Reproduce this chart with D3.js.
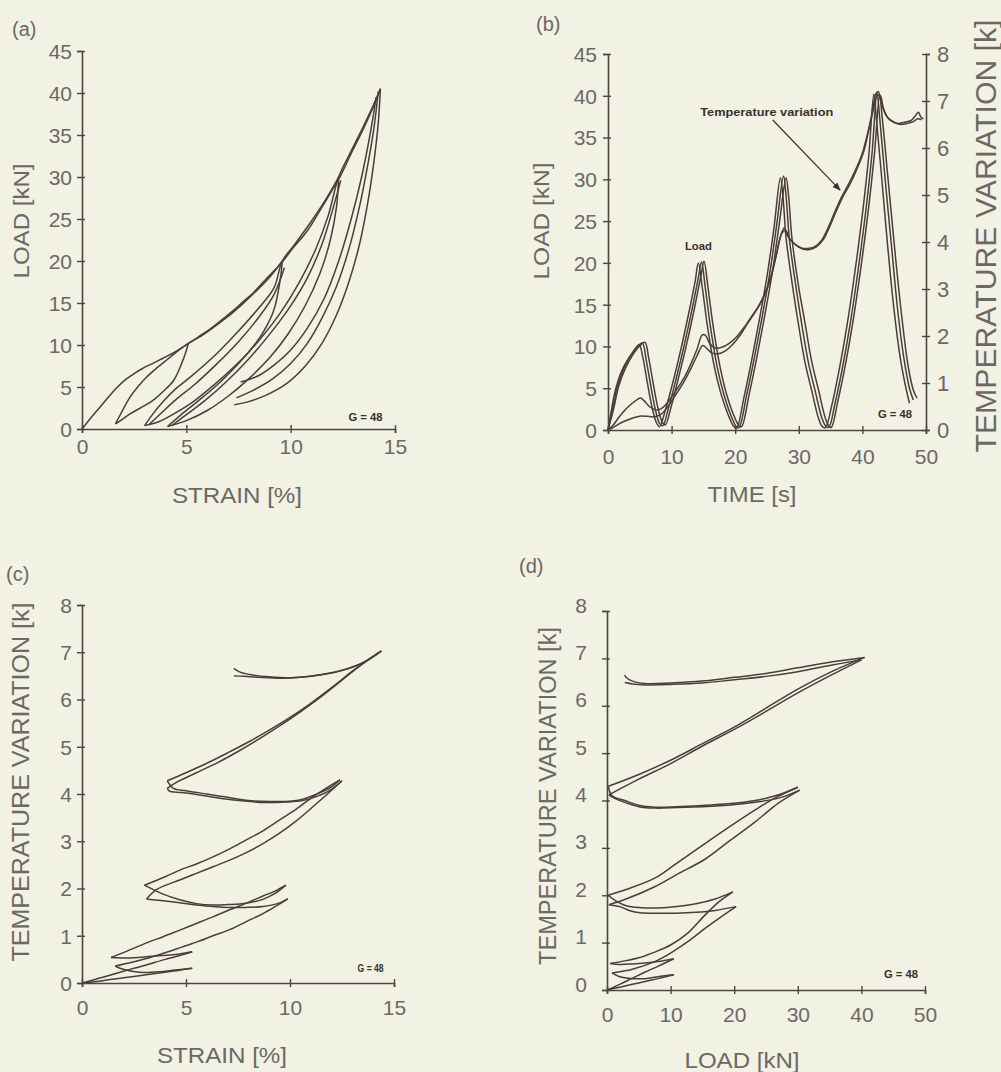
<!DOCTYPE html>
<html>
<head>
<meta charset="utf-8">
<script src="https://cdn.jsdelivr.net/npm/d3@7"></script>
<style>
  body { margin: 0; background: #f1f1e4; }
  svg { display: block; }
</style>
</head>
<body>
<svg id="chart" width="1001" height="1072"></svg>
<script>
// ---------- (a) load vs strain : [strain %, load kN] ----------
const aEnvelope = [[0,0],[0.45,1.4],[0.9,2.7],[1.3,3.9],[1.7,5.0],[2.1,5.9],[2.5,6.6],[2.9,7.2],[3.3,7.7],[3.7,8.2],[4.1,8.7],[4.6,9.4],[5.1,10.2],[5.6,11.0],[6.2,12.0],[6.7,13.0],[7.2,14.0],[7.7,15.1],[8.2,16.2],[8.8,17.8],[9.5,19.6],[10.1,21.5],[10.8,23.6],[11.4,26.0],[12.0,28.5],[12.4,30.2],[12.9,32.8],[13.5,35.8],[13.9,38.0],[14.3,40.5]];
const aLoop1Upper = [[1.6,0.6],[1.9,2.0],[2.3,3.8],[2.7,5.1],[3.1,6.2],[3.6,7.3],[4.1,8.3],[4.6,9.3],[5.1,10.2],[5.6,10.9],[6.3,12.1],[7.0,13.4],[7.7,14.9],[8.3,16.3],[9.0,18.1],[9.6,20.0]];
const aLoop1Lower = [[5.1,10.2],[4.9,8.6],[4.4,5.8],[3.9,4.5],[3.4,3.4],[2.8,2.5],[2.3,1.8],[1.9,1.1],[1.6,0.6]];
const aLoop2Upper = [[3.0,0.4],[3.4,1.8],[3.9,3.3],[4.5,4.8],[5.2,6.2],[6.3,8.6],[7.4,11.4],[8.4,14.2],[9.2,16.8],[9.6,20.0],[10.2,22.0],[10.9,24.4],[11.6,27.0],[12.3,30.0]];
const aLoop2UpperB = [[3.2,0.5],[3.8,1.9],[4.5,3.5],[5.4,5.3],[6.4,7.6],[7.5,10.4],[8.5,13.4],[9.2,16.0],[9.7,19.2]];
const aLoop2Lower = [[9.6,20.0],[9.5,17.8],[9.2,14.2],[8.7,11.6],[8.0,9.2],[7.2,7.2],[6.3,5.2],[5.3,3.2],[4.4,1.8],[3.7,0.9],[3.0,0.4]];
const aLoop3Upper = [[4.1,0.3],[4.7,1.6],[5.5,3.2],[6.5,5.3],[7.5,7.8],[8.5,10.6],[9.5,13.8],[10.4,17.4],[11.2,21.4],[11.8,25.4],[12.3,30.0],[12.8,32.6],[13.4,35.6],[13.9,38.2],[14.3,40.5]];
const aLoop3UpperB = [[4.3,0.4],[5.0,1.7],[5.9,3.4],[6.9,5.6],[7.9,8.1],[8.9,11.0],[9.9,14.3],[10.8,18.0],[11.5,22.0],[12.0,26.0],[12.4,29.6]];
const aLoop3Lower = [[12.3,30.0],[12.2,26.5],[11.9,22.5],[11.4,18.5],[10.7,14.7],[9.9,11.4],[9.0,8.5],[8.0,6.0],[7.0,3.9],[6.0,2.2],[5.0,1.0],[4.1,0.3]];
const aUnload4a = [[14.3,40.5],[14.2,36.5],[14.0,32.0],[13.7,27.0],[13.3,22.0],[12.8,17.6],[12.2,13.6],[11.5,10.2],[10.7,7.5],[9.8,5.4],[8.8,4.0],[7.9,3.2],[7.3,2.9]];
const aUnload4b = [[14.2,40.2],[14.0,36.0],[13.7,31.5],[13.3,26.5],[12.8,21.5],[12.2,17.0],[11.5,13.2],[10.8,10.2],[10.0,7.8],[9.1,5.9],[8.2,4.6],[7.4,3.7]];
const aUnload4c = [[14.1,39.5],[13.8,35.0],[13.4,30.0],[12.9,25.0],[12.3,20.0],[11.6,15.5],[10.8,12.0],[10.0,9.4],[9.2,7.6],[8.5,6.4],[7.9,5.8],[7.6,5.6]];

// ---------- (b) load and temperature vs time ----------
const bLoad1 = [[0,0],[0.5,2.2],[1.1,4.6],[2.0,6.8],[3.0,8.3],[4.0,9.4],[4.9,10.2],[5.5,8.6],[6.2,5.6],[6.9,2.8],[7.6,0.9],[8.1,0.4],[9.1,2.6],[10.3,6.0],[11.5,9.8],[12.7,14.0],[13.7,17.8],[14.2,20.0],[14.8,17.2],[15.6,12.6],[16.6,8.0],[17.7,4.5],[18.8,2.0],[19.7,0.5],[20.2,0.2],[21.4,4.0],[22.6,8.4],[23.8,13.2],[25.0,18.4],[26.1,24.2],[27.1,30.2],[27.5,28.0],[28.0,23.0],[29.0,17.3],[30.0,12.4],[31.0,8.0],[32.1,4.5],[33.1,1.4],[33.7,0.4],[34.2,0.3],[35.2,3.0],[36.4,7.4],[37.6,12.6],[38.8,18.8],[40.0,25.8],[41.0,32.8],[41.8,40.2],[42.2,37.2],[43.1,29.6],[44.0,21.8],[45.0,14.2],[46.0,8.4],[46.8,5.2],[47.4,3.2]];
const bLoad2 = [[0,0],[0.7,2.4],[1.4,5.0],[2.4,7.2],[3.5,8.8],[4.5,9.9],[5.4,10.4],[6.0,8.4],[6.7,5.4],[7.4,2.6],[8.1,0.8],[8.6,0.5],[9.6,2.9],[10.8,6.4],[12.0,10.2],[13.2,14.4],[14.2,18.2],[14.7,20.1],[15.3,17.0],[16.1,12.4],[17.1,7.8],[18.2,4.3],[19.3,1.8],[20.2,0.4],[20.6,0.3],[21.8,4.2],[23.0,8.6],[24.2,13.4],[25.4,18.6],[26.5,24.4],[27.6,30.4],[28.0,28.0],[28.5,23.0],[29.5,17.4],[30.5,12.5],[31.5,8.1],[32.6,4.6],[33.6,1.5],[34.2,0.5],[34.7,0.3],[35.7,3.2],[36.9,7.6],[38.1,12.8],[39.3,19.0],[40.5,26.0],[41.5,33.0],[42.3,40.4],[42.7,37.5],[43.6,29.8],[44.6,21.8],[45.6,14.0],[46.6,8.2],[47.4,5.0],[48.0,3.6]];
const bLoad3 = [[0,0],[0.9,2.6],[1.7,5.3],[2.8,7.5],[3.9,9.0],[4.9,10.0],[5.8,10.5],[6.4,8.6],[7.1,5.6],[7.8,2.8],[8.5,1.0],[9.0,0.6],[10.0,3.0],[11.2,6.6],[12.4,10.4],[13.6,14.6],[14.6,18.4],[15.1,20.2],[15.7,17.2],[16.5,12.6],[17.5,8.0],[18.6,4.4],[19.7,1.9],[20.6,0.5],[21.0,0.4],[22.2,4.3],[23.4,8.7],[24.6,13.5],[25.8,18.7],[26.9,24.5],[28.0,30.2],[28.4,28.0],[28.9,23.1],[29.9,17.5],[31.0,12.7],[32.0,8.3],[33.1,4.8],[34.1,1.6],[34.7,0.5],[35.1,0.3],[36.1,3.3],[37.3,7.7],[38.5,12.9],[39.7,19.1],[40.9,26.1],[41.9,33.1],[42.7,40.0],[43.1,37.5],[44.1,29.5],[45.1,21.5],[46.2,13.5],[47.2,7.6],[48.0,4.8],[48.6,3.8]];
const bTemp1 = [[0,0],[0.8,0.1],[1.6,0.25],[2.5,0.4],[3.4,0.52],[4.3,0.62],[5.1,0.68],[5.7,0.62],[6.5,0.5],[7.4,0.43],[8.3,0.45],[9.2,0.56],[10.1,0.72],[11.0,0.9],[12.0,1.12],[13.0,1.4],[14.0,1.72],[14.8,2.02],[15.3,2.02],[16.0,1.84],[16.9,1.74],[17.9,1.76],[19.0,1.84],[20.2,1.98],[21.5,2.2],[22.6,2.42],[23.6,2.62],[24.6,2.88],[25.6,3.25],[26.5,3.75],[27.2,4.15],[27.7,4.3],[28.3,4.12],[29.2,3.98],[30.3,3.88],[31.4,3.86],[32.5,3.9],[33.6,4.04],[34.6,4.3],[35.6,4.62],[36.7,4.95],[37.7,5.2],[38.8,5.5],[39.9,5.85],[40.8,6.3],[41.5,6.72],[42.1,7.15],[42.5,7.2],[43.0,6.95],[43.7,6.7],[44.6,6.58],[45.6,6.52],[46.6,6.55],[47.6,6.58],[48.3,6.68],[48.8,6.76],[49.2,6.66],[49.6,6.62]];
const bTemp2 = [[0,0],[0.8,0.05],[1.6,0.12],[2.5,0.18],[3.4,0.23],[4.3,0.27],[5.3,0.3],[6.2,0.29],[7.2,0.28],[8.2,0.32],[9.1,0.44],[10.0,0.62],[11.0,0.82],[12.0,1.04],[13.0,1.3],[14.0,1.58],[14.9,1.8],[15.5,1.74],[16.3,1.64],[17.3,1.62],[18.4,1.68],[19.6,1.82],[20.8,2.02],[22.0,2.28],[23.2,2.52],[24.3,2.78],[25.4,3.15],[26.4,3.68],[27.3,4.18],[27.9,4.25],[28.6,4.06],[29.5,3.94],[30.6,3.85],[31.7,3.84],[32.8,3.9],[33.9,4.06],[34.9,4.34],[35.9,4.66],[37.0,4.98],[38.0,5.22],[39.1,5.54],[40.2,5.92],[41.0,6.38],[41.7,6.8],[42.3,7.1],[42.8,7.12],[43.3,6.85],[44.0,6.64],[45.0,6.54],[46.0,6.5],[47.0,6.52],[48.0,6.56],[48.7,6.62],[49.3,6.6]];

// ---------- (c) temperature vs strain : [strain %, temp k] ----------
const cC1LoadA = [[0,0],[1.0,0.12],[2.0,0.25],[3.0,0.37],[4.0,0.5],[4.7,0.58],[5.3,0.66]];
const cC1UnloadA = [[5.3,0.66],[4.6,0.61],[3.8,0.58],[3.0,0.55],[2.2,0.53],[1.4,0.54]];
const cC1LoadB = [[0,0],[1.0,0.05],[2.0,0.11],[3.0,0.17],[4.0,0.23],[4.7,0.27],[5.3,0.31]];
const cC1UnloadB = [[5.3,0.31],[4.6,0.28],[3.8,0.24],[3.0,0.22],[2.4,0.25],[1.9,0.3],[1.6,0.36]];
const cC2LoadA = [[1.4,0.54],[2.3,0.7],[3.1,0.85],[3.9,0.98],[4.7,1.12],[5.5,1.26],[6.3,1.4],[7.1,1.55],[7.9,1.69],[8.7,1.84],[9.3,1.95],[9.8,2.07]];
const cC2LoadB = [[1.6,0.36],[2.4,0.44],[3.2,0.53],[4.0,0.64],[4.8,0.76],[5.6,0.88],[6.3,1.0],[7.1,1.13],[7.9,1.3],[8.7,1.47],[9.3,1.62],[9.9,1.78]];
const cC2UnloadA = [[9.8,2.07],[9.3,1.9],[8.7,1.77],[7.9,1.69],[7.0,1.66],[6.3,1.65],[5.5,1.68],[4.7,1.76],[3.9,1.88],[3.0,2.07]];
const cC2UnloadB = [[9.9,1.78],[9.4,1.68],[8.7,1.62],[7.9,1.6],[7.0,1.6],[6.3,1.62],[5.5,1.65],[4.7,1.7],[3.9,1.74],[3.4,1.76],[3.1,1.78]];
const cC3LoadA = [[3.0,2.07],[4.0,2.25],[4.7,2.39],[5.5,2.52],[6.3,2.67],[7.1,2.84],[7.9,3.03],[8.7,3.22],[9.5,3.45],[10.3,3.68],[11.1,3.94],[11.8,4.14],[12.4,4.3]];
const cC3LoadB = [[3.1,1.78],[3.6,1.98],[4.7,2.18],[5.5,2.32],[6.3,2.46],[7.1,2.6],[7.9,2.76],[8.7,2.95],[9.5,3.17],[10.3,3.43],[11.1,3.73],[11.8,4.0],[12.5,4.28]];
const cC3UnloadA = [[12.4,4.3],[12.0,4.15],[11.4,4.02],[10.7,3.9],[10.1,3.85],[9.0,3.84],[8.0,3.86],[7.0,3.93],[6.0,4.0],[5.0,4.07],[4.4,4.12],[4.1,4.28]];
const cC3UnloadB = [[12.5,4.28],[12.0,4.1],[11.3,3.95],[10.6,3.86],[9.8,3.83],[8.8,3.82],[7.8,3.85],[6.8,3.9],[5.8,3.97],[4.8,4.03],[4.2,4.06],[4.1,4.12]];
const cC4LoadA = [[4.1,4.28],[5.0,4.45],[6.0,4.65],[7.0,4.87],[8.0,5.1],[9.0,5.35],[10.0,5.62],[11.0,5.92],[12.0,6.25],[13.0,6.6],[13.8,6.85],[14.4,7.03]];
const cC4LoadB = [[4.1,4.12],[4.6,4.26],[5.5,4.45],[6.5,4.66],[7.5,4.9],[8.5,5.16],[9.5,5.44],[10.5,5.74],[11.5,6.06],[12.5,6.41],[13.5,6.76],[14.3,7.0]];
const cC4UnloadA = [[14.4,7.03],[13.8,6.85],[13.0,6.68],[12.0,6.56],[11.0,6.49],[10.0,6.46],[9.0,6.48],[8.2,6.52],[7.6,6.58],[7.3,6.66]];
const cC4UnloadB = [[14.3,7.0],[13.5,6.78],[12.5,6.62],[11.5,6.53],[10.5,6.47],[9.5,6.45],[8.5,6.47],[7.8,6.49],[7.3,6.5]];

// ---------- (d) temperature vs load : [load kN, temp k] ----------
const dC1LoadA = [[0,0],[2,0.12],[4,0.25],[6,0.38],[8,0.5],[10.5,0.66]];
const dC1UnloadA = [[10.5,0.66],[8,0.6],[6,0.57],[4,0.55],[2,0.54],[0.5,0.56]];
const dC1LoadB = [[0,0],[2,0.06],[4,0.12],[6,0.18],[8,0.24],[10.5,0.32]];
const dC1UnloadB = [[10.5,0.32],[8,0.28],[6,0.24],[4,0.24],[2,0.28],[0.8,0.36]];
const dC2LoadA = [[0.5,0.56],[3,0.62],[5,0.68],[7.5,0.8],[10,0.95],[12.7,1.2],[15.4,1.58],[17.5,1.85],[19.8,2.07]];
const dC2LoadB = [[0.8,0.36],[4,0.44],[7.5,0.6],[10,0.78],[12.7,1.02],[15.4,1.3],[18,1.55],[20.3,1.76]];
const dC2UnloadA = [[19.8,2.07],[17,1.92],[14,1.82],[11,1.76],[8,1.73],[5,1.74],[3,1.78],[1.5,1.87],[0.2,2.0]];
const dC2UnloadB = [[20.3,1.76],[17,1.68],[14,1.64],[11,1.62],[8,1.62],[5.2,1.63],[3.5,1.68],[2,1.76],[0.3,1.8]];
const dC3LoadA = [[0.2,2.0],[3,2.12],[7.5,2.36],[11,2.68],[15.4,3.09],[19,3.42],[23.3,3.8],[26.5,4.06],[30,4.28]];
const dC3LoadB = [[0.3,1.8],[3,1.92],[7.5,2.18],[11,2.44],[15.4,2.76],[19,3.12],[23.3,3.55],[27,3.95],[30.3,4.22]];
const dC3UnloadA = [[30,4.28],[27,4.12],[23.3,4.0],[19,3.93],[15.4,3.9],[11,3.87],[7.5,3.86],[5,3.9],[2.8,4.0],[0.8,4.1],[0.2,4.3]];
const dC3UnloadB = [[30.3,4.22],[27,4.05],[23,3.96],[19,3.9],[15,3.87],[11,3.85],[7.5,3.84],[5,3.87],[3,3.95],[1,4.06],[0.3,4.12]];
const dC4LoadA = [[0.2,4.3],[5,4.55],[10,4.85],[15,5.2],[20,5.55],[25,5.95],[30,6.35],[35,6.7],[40.5,7.02]];
const dC4LoadB = [[0.3,4.12],[5,4.45],[10,4.78],[15,5.15],[20,5.5],[25,5.88],[30,6.27],[35,6.63],[40,6.97]];
const dC4UnloadA = [[40.5,7.02],[35,6.92],[30,6.8],[25,6.68],[20,6.6],[15,6.52],[10,6.48],[6,6.47],[4,6.52],[3,6.6],[2.8,6.65]];
const dC4UnloadB = [[40,6.97],[35,6.85],[30,6.72],[25,6.62],[20,6.55],[15,6.48],[10,6.45],[6,6.44],[4,6.46],[2.8,6.49]];

// ticks
const strainTicks = [0, 5, 10, 15];
const loadTicks = [0, 5, 10, 15, 20, 25, 30, 35, 40, 45];
const timeTicks = [0, 10, 20, 30, 40, 50];
const tempTicks = [0, 1, 2, 3, 4, 5, 6, 7, 8];
const loadTicksD = [0, 10, 20, 30, 40, 50];

const fontFamily = "'Liberation Sans', Arial, sans-serif";
const narrowFont = "'Liberation Sans Narrow', 'Liberation Sans', Arial, sans-serif";
const lineColor = "#4b3d38";
const axisColor = "#4a4743";
const labelColor = "#6c6863";
const noteColor = "#3a302c";

const svg = d3.select("#chart");
svg.append("rect").attr("width", 1001).attr("height", 1072).attr("fill", "#f1f1e4");

// scales
const xA = d3.scaleLinear().domain([0, 15]).range([82, 395]);
const yA = d3.scaleLinear().domain([0, 45]).range([429, 51]);
const xB = d3.scaleLinear().domain([0, 50]).range([608, 926]);
const yB = d3.scaleLinear().domain([0, 45]).range([430, 54]);
const yBr = d3.scaleLinear().domain([0, 8]).range([430, 54]);
const xC = d3.scaleLinear().domain([0, 15]).range([82, 394]);
const yC = d3.scaleLinear().domain([0, 8]).range([983, 605]);
const xD = d3.scaleLinear().domain([0, 50]).range([607, 925]);
const yD = d3.scaleLinear().domain([0, 8]).range([990, 611]);

function styleAxis(g, size) {
  g.attr("font-family", fontFamily).attr("font-size", size);
  g.select(".domain").attr("stroke", axisColor).attr("stroke-width", 1.6);
  g.selectAll(".tick line").attr("stroke", axisColor).attr("stroke-width", 1.4);
  g.selectAll(".tick text").attr("fill", labelColor);
}

function bottomAxis(x, ticks, y0, labelY) {
  const g = svg.append("g").attr("transform", `translate(0,${y0})`)
    .call(d3.axisBottom(x).tickValues(ticks).tickSizeOuter(0).tickSize(4));
  styleAxis(g, 21);
  g.selectAll(".tick line").attr("y1", -4).attr("y2", 4);
  g.selectAll(".tick text").attr("y", labelY).attr("dy", "0.35em");
}

function leftAxis(y, ticks, x0, labelX, dy) {
  const g = svg.append("g").attr("transform", `translate(${x0},0)`)
    .call(d3.axisLeft(y).tickValues(ticks).tickSizeOuter(0).tickSize(5));
  styleAxis(g, 21);
  g.selectAll(".tick line").attr("x1", -5).attr("x2", 3);
  g.selectAll(".tick text").attr("x", labelX).attr("dy", dy);
}

function curves(list, x, y) {
  const line = d3.line().x(d => x(d[0])).y(d => y(d[1])).curve(d3.curveCatmullRom.alpha(0.5));
  svg.append("g").selectAll("path").data(list).join("path")
    .attr("d", line)
    .attr("fill", "none")
    .attr("stroke", lineColor)
    .attr("stroke-width", 1.5)
    .attr("stroke-linejoin", "round");
}

function title(text, x, y, size, len, rotate) {
  svg.append("text")
    .attr("transform", `translate(${x},${y})` + (rotate ? " rotate(-90)" : ""))
    .attr("text-anchor", "middle")
    .attr("font-family", fontFamily)
    .attr("font-size", size)
    .attr("fill", labelColor)
    .attr("textLength", len)
    .attr("lengthAdjust", "spacingAndGlyphs")
    .attr("dy", rotate ? "0.35em" : 0)
    .text(text);
}

function panelTag(text, x, y) {
  svg.append("text").attr("x", x).attr("y", y)
    .attr("font-family", fontFamily).attr("font-size", 20)
    .attr("fill", labelColor).text(text);
}

function smallNote(text, x, y, len, anchor) {
  svg.append("text").attr("x", x).attr("y", y)
    .attr("text-anchor", anchor || "end")
    .attr("font-family", narrowFont)
    .attr("font-weight", "bold").attr("font-size", 10)
    .attr("fill", noteColor)
    .attr("textLength", len).attr("lengthAdjust", "spacingAndGlyphs")
    .text(text);
}

// ---------- panel (a) ----------
curves([aEnvelope, aLoop1Upper, aLoop1Lower, aLoop2Upper, aLoop2UpperB, aLoop2Lower,
        aLoop3Upper, aLoop3UpperB, aLoop3Lower, aUnload4a, aUnload4b, aUnload4c], xA, yA);
bottomAxis(xA, strainTicks, 429, 18);
leftAxis(yA, loadTicks, 82, -10, "0.35em");
title("LOAD  [kN]", 21, 221, 22, 115, true);
title("STRAIN  [%]", 237, 503, 22, 130, false);
panelTag("(a)", 12, 36);
smallNote("G = 48", xA(14.4), yA(1), 34);

// ---------- panel (b) ----------
curves([bLoad1, bLoad2, bLoad3], xB, yB);
curves([bTemp1, bTemp2], xB, yBr);
bottomAxis(xB, timeTicks, 430, 27);
leftAxis(yB, loadTicks, 608, -11, "0.35em");
{
  const g = svg.append("g").attr("transform", `translate(926,0)`)
    .call(d3.axisRight(yBr).tickValues(tempTicks).tickSizeOuter(0).tickSize(4));
  styleAxis(g, 22);
  g.selectAll(".tick line").attr("x1", -4).attr("x2", 4);
  g.selectAll(".tick text").attr("x", 11).attr("dy", "0.35em");
}
title("LOAD  [kN]", 541, 221, 22, 117, true);
title("TIME  [s]", 752, 502, 22, 89, false);
title("TEMPERATURE  VARIATION  [k]", 986, 236, 29, 433, true);
panelTag("(b)", 536, 31);
smallNote("G = 48", xB(47.8), yB(1.4), 34);

// annotations in (b)
const tempNote = [14.5, 37.6];
const loadNote = [12.1, 21.6];
const arrowFrom = [25.9, 37.1];
const arrowTo = [36.5, 28.7];
smallNote("Temperature variation", xB(tempNote[0]), yB(tempNote[1]), 133, "start");
smallNote("Load", xB(loadNote[0]), yB(loadNote[1]), 27, "start");
svg.append("defs").append("marker")
  .attr("id", "arrow").attr("viewBox", "0 0 10 10")
  .attr("refX", 9).attr("refY", 5)
  .attr("markerWidth", 7).attr("markerHeight", 7)
  .attr("orient", "auto")
  .append("path").attr("d", "M0,1 L10,5 L0,9 Z").attr("fill", noteColor);
svg.append("line")
  .attr("x1", xB(arrowFrom[0])).attr("y1", yB(arrowFrom[1]))
  .attr("x2", xB(arrowTo[0])).attr("y2", yB(arrowTo[1]))
  .attr("stroke", noteColor).attr("stroke-width", 1.2)
  .attr("marker-end", "url(#arrow)");

// ---------- panel (c) ----------
curves([cC1LoadA, cC1UnloadA, cC1LoadB, cC1UnloadB, cC2LoadA, cC2LoadB, cC2UnloadA, cC2UnloadB,
        cC3LoadA, cC3LoadB, cC3UnloadA, cC3UnloadB, cC4LoadA, cC4LoadB, cC4UnloadA, cC4UnloadB], xC, yC);
bottomAxis(xC, strainTicks, 983, 25);
leftAxis(yC, tempTicks, 82, -10, "0.35em");
title("TEMPERATURE VARIATION  [k]", 21, 782, 24, 359, true);
title("STRAIN  [%]", 222, 1063, 22, 130, false);
panelTag("(c)", 6, 581);
smallNote("G = 48", xC(14.5), yC(0.23), 26);

// ---------- panel (d) ----------
curves([dC1LoadA, dC1UnloadA, dC1LoadB, dC1UnloadB, dC2LoadA, dC2LoadB, dC2UnloadA, dC2UnloadB,
        dC3LoadA, dC3LoadB, dC3UnloadA, dC3UnloadB, dC4LoadA, dC4LoadB, dC4UnloadA, dC4UnloadB], xD, yD);
bottomAxis(xD, loadTicksD, 990, 25);
leftAxis(yD, tempTicks, 607, -20, "0.05em");
title("TEMPERATURE VARIATION  [k]", 548, 796, 23, 338, true);
title("LOAD  [kN]", 742, 1068, 22, 115, false);
panelTag("(d)", 519, 573);
smallNote("G = 48", xD(48.9), yD(0.25), 34);
</script>
</body>
</html>
